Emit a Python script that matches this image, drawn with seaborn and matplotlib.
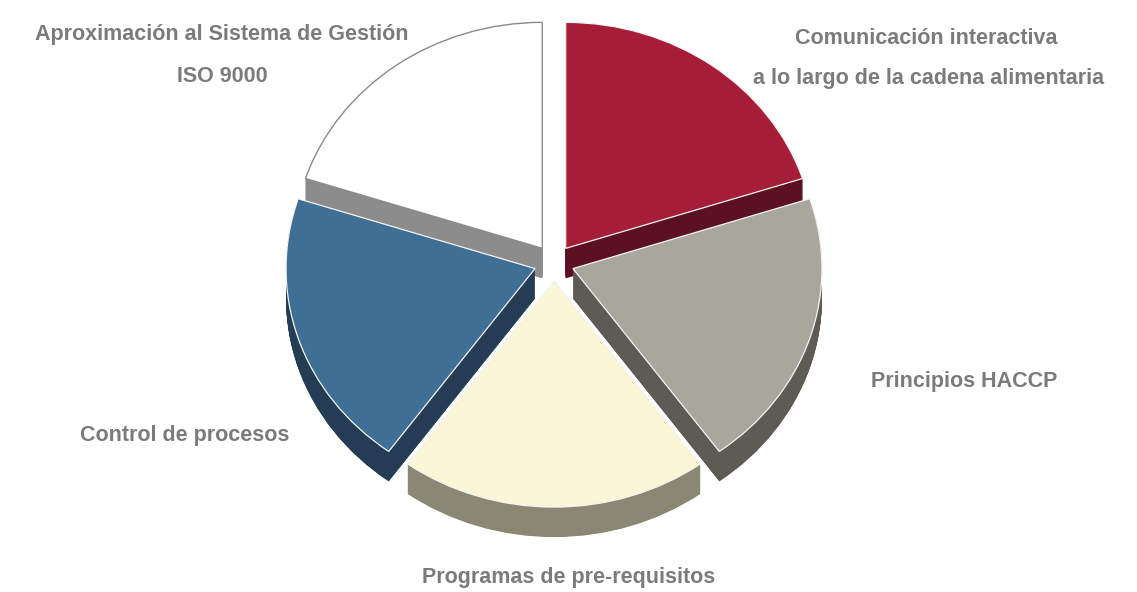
import matplotlib
matplotlib.use("Agg")
import matplotlib.pyplot as plt
import seaborn as sns
import numpy as np

# ---- data ----
categories = ["Comunicación interactiva\na lo largo de la cadena alimentaria",
              "Principios HACCP",
              "Programas de pre-requisitos",
              "Control de procesos",
              "Aproximación al Sistema de Gestión\nISO 9000"]
values = [20, 20, 20, 20, 20]
top_colors = ["#A51D37", "#A9A69B", "#FBF6D6", "#3F6F95", "#FFFFFF"]
side_colors = ["#5C1122", "#5E5B54", "#8A8872", "#243C54", "#8C8C8C"]

sns.set_theme(style="white")
plt.rcParams["font.family"] = ["Liberation Sans", "DejaVu Sans"]

W, H = 1137, 592
fig = plt.figure(figsize=(W / 100, H / 100), dpi=100)
fig.patch.set_facecolor("white")
ax = fig.add_axes([0, 0, 1, 1])

cx_px, cy_px = 554, 263     # pie centre in pixels (from top-left)
sx, sy = 249.0, 226.0       # pixels per data unit
explode = [0.08] * len(values)
depth = 30 / sy
nlayers = 50

# extruded sides: stack of darker pies
for k in np.linspace(depth, 0.002, nlayers):
    ax.pie(values, colors=side_colors, startangle=90, counterclock=False,
           explode=explode, center=(0, -k), radius=1.0,
           wedgeprops=dict(linewidth=0, antialiased=True), frame=True)

# top faces
wedges, _ = ax.pie(values, colors=top_colors, startangle=90, counterclock=False,
                   explode=explode, center=(0, 0), radius=1.0,
                   wedgeprops=dict(linewidth=0.9, edgecolor="#f4f4f4"), frame=True)
wedges[-1].set_edgecolor("#8a8a8a")
wedges[-1].set_linewidth(1.0)

ax.set_aspect("auto")
ax.set_xlim(-cx_px / sx, (W - cx_px) / sx)
ax.set_ylim(-(H - cy_px) / sy, cy_px / sy)
ax.axis("off")

# labels (pixel positions converted to data coords)
def px(x, y):
    return ((x - cx_px) / sx, (cy_px - y) / sy)

label_pos = [
    [(926, 39), (929, 79)],
    [(964, 381)],
    [(569, 577)],
    [(185, 436)],
    [(222, 35), (222, 77)],
]
for cat, poss in zip(categories, label_pos):
    for line, (x, y) in zip(cat.split("\n"), poss):
        ax.text(*px(x, y), line, ha="center", va="center", fontsize=15.5,
                fontweight="bold", color="#7b7b7b")

fig.savefig("out.png", dpi=100, facecolor="white")
